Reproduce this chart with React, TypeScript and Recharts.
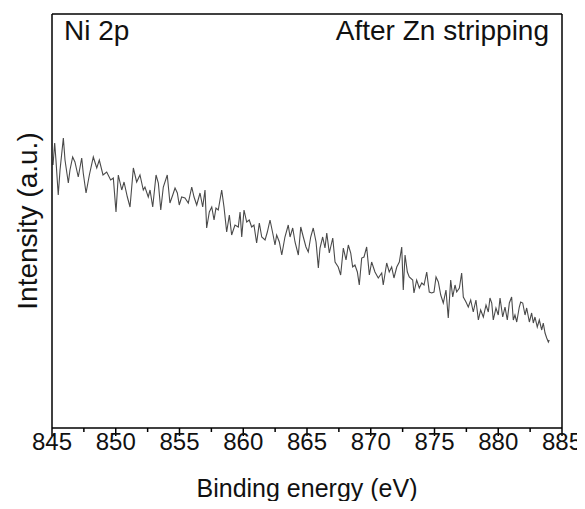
import { Line, LineChart, XAxis, YAxis } from "recharts";

// Ni 2p XPS survey after Zn stripping; intensity in arbitrary units
const energies = [
  845.08, 845.21, 845.31, 845.49, 845.63, 845.89, 846.02, 846.28, 846.41, 846.62,
  846.8, 847.06, 847.33, 847.45, 847.67, 847.93, 848.24, 848.51, 848.71, 849.0,
  849.29, 849.6, 849.81, 850.02, 850.2, 850.47, 850.65, 850.91, 851.12, 851.38,
  851.64, 851.9,
  852.16, 852.29, 852.55, 852.69, 852.9, 853.16, 853.34, 853.53, 853.73, 854.04,
  854.25, 854.47, 854.65, 854.83, 854.98, 855.17, 855.43, 855.69, 855.96, 856.14,
  856.35, 856.61, 856.82, 857.0, 857.13, 857.34, 857.53, 857.71, 857.86, 858.04,
  858.31, 858.49, 858.7, 858.91,
  859.09, 859.35, 859.61, 859.75, 859.88, 860.06, 860.27, 860.47, 860.66, 860.84,
  861.05, 861.26, 861.45, 861.71, 861.89, 862.1, 862.31, 862.49, 862.62, 862.83,
  863.02, 863.27, 863.53, 863.67, 863.88, 864.06, 864.32, 864.51, 864.71, 864.92,
  865.1, 865.29, 865.49, 865.71, 865.89, 866.02,
  866.23, 866.41, 866.55, 866.75, 867.02, 867.2, 867.45, 867.64, 867.85, 868.06,
  868.24, 868.43, 868.58, 868.76, 868.95, 869.1, 869.29, 869.47, 869.68, 869.89,
  870.07, 870.33, 870.59, 870.86, 870.98, 871.25, 871.45, 871.64, 871.82, 872.04,
  872.24, 872.43, 872.55, 872.69, 872.87, 873.02,
  873.29, 873.39, 873.6, 873.81, 874.0, 874.18, 874.39, 874.59, 874.78, 874.96,
  875.12, 875.3, 875.49, 875.69, 875.9, 876.08, 876.27, 876.43, 876.61, 876.74,
  876.95, 877.13, 877.26, 877.47, 877.65, 877.84, 878.04, 878.25, 878.44, 878.62,
  878.83, 879.04, 879.22, 879.35,
  879.49, 879.61, 879.82, 880.0, 880.14, 880.35, 880.53, 880.71, 880.87, 881.05,
  881.18, 881.31, 881.45, 881.65, 881.76, 881.92, 882.1, 882.23, 882.44, 882.62,
  882.75, 882.88, 883.06, 883.22, 883.41, 883.53, 883.67, 883.8, 883.93, 884.0,
];

const intensities = [
  263, 285, 268, 233, 258, 290, 268, 245, 258, 271,
  266, 251, 270, 255, 235, 253, 271, 260, 268, 253,
  256, 248, 250, 216, 253, 238, 246, 231, 221, 260,
  246, 253,
  238, 241, 231, 238, 221, 253, 245, 218, 241, 253,
  225, 233, 240, 235, 223, 231, 230, 225, 241, 231,
  223, 235, 221, 238, 200, 216, 221, 208, 220, 218,
  238, 221, 196, 213,
  193, 203, 201, 216, 191, 218, 206, 208, 201, 203,
  185, 205, 191, 188, 196, 208, 195, 183, 193, 186,
  173, 191, 203, 191, 200, 186, 173, 201, 191, 181,
  176, 191, 200, 186, 160, 180,
  191, 180, 195, 175, 190, 166, 161, 153, 180, 168,
  183, 175, 161, 163, 156, 143, 170, 171, 181, 153,
  166, 156, 150, 155, 143, 165, 156, 161, 150, 161,
  166, 181, 138, 173, 156, 151,
  148, 135, 148, 140, 145, 143, 156, 136, 135, 136,
  151, 146, 133, 125, 138, 110, 148, 131, 143, 136,
  140, 155, 131, 126, 121, 128, 116, 128, 108, 118,
  111, 123, 116, 130,
  125, 108, 120, 113, 130, 111, 121, 108, 125, 131,
  108, 113, 106, 121, 126, 125, 113, 120, 106, 115,
  105, 111, 101, 108, 98, 105, 95, 90, 86, 88,
];

const energyTicks = [845, 847.5, 850, 852.5, 855, 857.5, 860, 862.5, 865, 867.5, 870, 872.5, 875, 877.5, 880, 882.5, 885];

const data = energies.map((energy, i) => ({ energy, intensity: intensities[i] }));

const axisLine = { stroke: "#000", strokeWidth: 1.5 };

function EnergyTick(props: any) {
  const { x, y, payload } = props;
  const major = payload.value % 5 === 0;
  return (
    <g>
      <line x1={x} x2={x} y1={y} y2={y + (major ? 8 : 4)} stroke="#000" strokeWidth={1.5} />
      {major && (
        <text x={x} y={y + 22} textAnchor="middle" fontSize={24} fill="#111">
          {payload.value}
        </text>
      )}
    </g>
  );
}

export default function App() {
  return (
    <div style={{ position: "relative", width: 585, height: 509, margin: -8, fontFamily: "'Liberation Sans', Arial, sans-serif", background: "#fff" }}>
      <LineChart width={585} height={509} data={data} margin={{ top: 13, right: 22, left: 0, bottom: 0 }}>
        <XAxis
          dataKey="energy"
          type="number"
          domain={[845, 885]}
          ticks={energyTicks}
          interval={0}
          tick={<EnergyTick />}
          tickLine={false}
          tickSize={0}
          tickMargin={0}
          height={81}
          axisLine={axisLine}
          label={{ value: "Binding energy (eV)", position: "insideTop", offset: 51, fontSize: 25, fill: "#111" }}
        />
        <XAxis xAxisId="top" orientation="top" type="number" domain={[845, 885]} tick={false} tickLine={false} height={1} axisLine={axisLine} />
        <YAxis
          type="number"
          domain={[0, 414]}
          tick={false}
          tickLine={false}
          width={52}
          axisLine={axisLine}
          label={{ value: "Intensity (a.u.)", angle: -90, position: "center", dx: 1, fontSize: 28, fill: "#111" }}
        />
        <YAxis yAxisId="right" orientation="right" type="number" domain={[0, 414]} tick={false} tickLine={false} width={1} axisLine={axisLine} />
        <Line dataKey="intensity" stroke="#4a4a4a" strokeWidth={1.1} dot={false} isAnimationActive={false} />
      </LineChart>
      <div style={{ position: "absolute", left: 64, top: 15, fontSize: 28, color: "#111" }}>Ni 2p</div>
      <div style={{ position: "absolute", right: 36, top: 15, fontSize: 28, color: "#111" }}>After Zn stripping</div>
    </div>
  );
}
